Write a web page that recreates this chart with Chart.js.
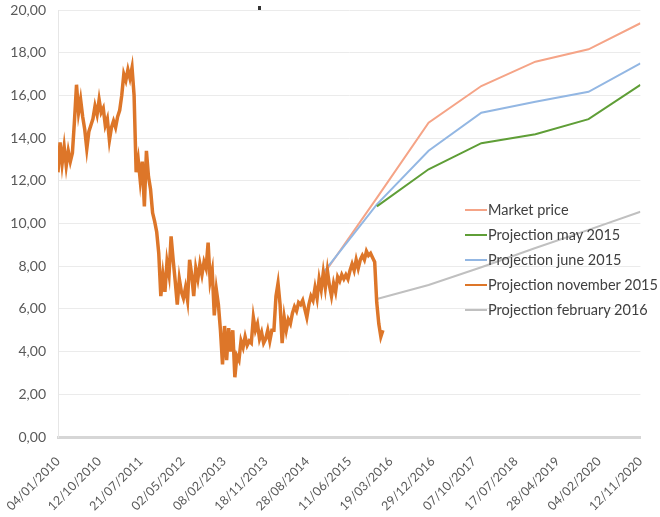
<!DOCTYPE html>
<html>
<head>
<meta charset="utf-8">
<title>Market price and projections</title>
<script src="https://cdn.jsdelivr.net/npm/chart.js@4.4.1/dist/chart.umd.min.js"></script>
<style>
  body { margin: 0; background: #fff; }
  #wrap { position: relative; width: 660px; height: 517px; }
  #chart { position: absolute; left: 0; top: 0; }
  #legend { position: absolute; left: 465px; top: 197px; font-family: Lato, sans-serif; font-size: 14.5px; color: #404040; }
  #legend .row { height: 25px; display: flex; align-items: center; white-space: nowrap; }
  #legend .sw { display: inline-block; width: 22px; height: 2px; margin-right: 1px; }
  #dot { position: absolute; left: 258px; top: 6px; width: 3px; height: 4px; background: #333; }
</style>
</head>
<body>
<div id="wrap">
  <canvas id="chart" width="660" height="517"></canvas>
  <div id="legend"></div>
  <div id="dot"></div>
</div>
<script>
// x axis tick dates
const tickLabels = ["04/01/2010", "12/10/2010", "21/07/2011", "02/05/2012", "08/02/2013",
    "18/11/2013", "28/08/2014", "11/06/2015", "19/03/2016", "29/12/2016",
    "07/10/2017", "17/07/2018", "28/04/2019", "04/02/2020", "12/11/2020"];

// market price, one value every two weeks from 04/01/2010
const marketStart = "04/01/2010";
const marketStepDays = 14;
const marketPrice = [
    12.4, 13.8, 12.8, 13.6, 12.7, 13.4, 12.9, 13.3, 14.8, 16.5,
    15.2, 15.8, 15.0, 14.4, 13.5, 14.3, 14.6, 14.9, 15.5, 15.1,
    15.8, 15.2, 15.4, 14.6, 14.9, 13.9, 14.5, 14.8, 14.5, 15.0,
    15.3, 16.0, 17.0, 16.7, 17.2, 16.8, 17.3, 16.0, 12.4, 13.0,
    12.0, 12.9, 10.8, 13.4, 12.2, 11.6, 10.5, 10.1, 9.6, 8.6,
    6.6, 7.6, 6.8, 8.2, 7.6, 9.4, 8.3, 7.3, 6.2, 7.4,
    6.8, 6.5, 7.0, 6.4, 8.3, 7.6, 6.6, 7.9, 7.4, 8.1,
    7.6, 8.2, 7.9, 9.1, 7.3, 7.8, 5.7, 6.9, 6.2, 5.0,
    3.4, 5.2, 3.6, 5.1, 4.0, 5.0, 2.8, 3.8, 3.6, 4.5,
    4.2, 4.7, 4.3, 4.5, 4.4, 5.6, 5.0, 5.3, 4.6, 4.9,
    4.4, 4.6, 5.0, 4.5, 5.0, 5.0, 6.6, 7.2, 6.2, 4.4,
    5.6, 5.0, 5.5, 5.3, 5.8, 6.1, 5.9, 6.3, 6.2, 6.4,
    6.0, 5.6, 6.2, 6.6, 6.4, 7.0, 6.5, 7.4, 6.9, 7.7,
    7.0, 7.8, 7.1, 6.6, 7.2, 6.8, 7.5, 7.3, 7.6, 7.4,
    7.6, 7.4, 7.8, 8.1, 7.8, 8.3, 7.9, 8.3, 8.5, 8.3,
    8.7, 8.5, 8.6, 8.4, 8.2, 6.3, 5.3, 4.7, 5.0
];

// projections
const projectionDates = ["15/12/2014", "15/12/2015", "01/12/2016", "25/11/2017", "28/11/2018", "25/11/2019", "12/11/2020"];
const projMay2015 = [null, 10.8, 12.54, 13.76, 14.18, 14.89, 16.49];
const projJune2015 = [7.7, 10.9, 13.41, 15.19, 15.7, 16.17, 17.5];
const projNov2015 = [7.6, 11.2, 14.72, 16.44, 17.58, 18.16, 19.38];
const projFeb2016 = [null, 6.46, 7.12, 7.95, 8.85, 9.7, 10.55];

const seriesNames = ["Market price", "Projection may 2015", "Projection june 2015", "Projection november 2015", "Projection february 2016"];

const orange = "#dd7629";
const green = "#5f9e37";
const blue = "#93b7e3";
const salmon = "#f5a487";
const grey = "#c0c0c0";

function dayOf(s) {
    const [d, m, y] = s.split("/").map(Number);
    return (Date.UTC(y, m - 1, d) - Date.UTC(2010, 0, 4)) / 86400000;
}

function toPoints(dates, values) {
    const pts = [];
    values.forEach((v, i) => {
        if (v !== null) pts.push({ x: dayOf(dates[i]), y: v });
    });
    return pts;
}

const marketPoints = marketPrice.map((v, i) => ({ x: dayOf(marketStart) + i * marketStepDays, y: v }));

function lineSet(label, data, color, width) {
    return {
        label: label,
        data: data,
        borderColor: color,
        backgroundColor: color,
        borderWidth: width,
        pointRadius: 0,
        tension: 0,
        fill: false,
    };
}

new Chart(document.getElementById("chart"), {
    type: "line",
    data: {
        datasets: [
            lineSet(seriesNames[0], marketPoints, orange, 3.5),
            lineSet(seriesNames[1], toPoints(projectionDates, projMay2015), green, 2),
            lineSet(seriesNames[2], toPoints(projectionDates, projJune2015), blue, 2),
            lineSet(seriesNames[3], toPoints(projectionDates, projNov2015), salmon, 2),
            lineSet(seriesNames[4], toPoints(projectionDates, projFeb2016), grey, 2),
        ],
    },
    options: {
        responsive: false,
        animation: false,
        layout: { padding: { top: 10, right: 17, left: 0, bottom: 0 } },
        plugins: { legend: { display: false }, tooltip: { enabled: false } },
        scales: {
            x: {
                type: "linear",
                min: dayOf(tickLabels[0]),
                max: dayOf(tickLabels[tickLabels.length - 1]),
                grid: { display: false },
                border: { color: "#d6d6d6", width: 3 },
                afterBuildTicks: (s) => { s.ticks = tickLabels.map((t) => ({ value: dayOf(t) })); },
                afterFit: (s) => { s.height = 80; },
                ticks: {
                    autoSkip: false,
                    minRotation: 45,
                    maxRotation: 45,
                    padding: 9,
                    color: "#595959",
                    font: { family: "Lato", size: 12.5 },
                    callback: (v, i) => tickLabels[i],
                },
            },
            y: {
                min: 0,
                max: 20,
                grid: { color: "#ebebeb", drawTicks: false },
                border: { color: "#e6e6e6" },
                afterFit: (s) => { s.width = 56; s.paddingTop = 0; },
                ticks: {
                    stepSize: 2,
                    padding: 12,
                    color: "#595959",
                    font: { family: "Lato", size: 14 },
                    callback: (v) => v.toFixed(2).replace(".", ","),
                },
            },
        },
    },
});

// legend as drawn in the picture (first and fourth swatch colours are swapped there)
const legendColors = [salmon, green, blue, orange, grey];
const legend = document.getElementById("legend");
seriesNames.forEach((name, i) => {
    const row = document.createElement("div");
    row.className = "row";
    const sw = document.createElement("span");
    sw.className = "sw";
    sw.style.background = legendColors[i];
    row.appendChild(sw);
    row.appendChild(document.createTextNode(name));
    legend.appendChild(row);
});
</script>
</body>
</html>
